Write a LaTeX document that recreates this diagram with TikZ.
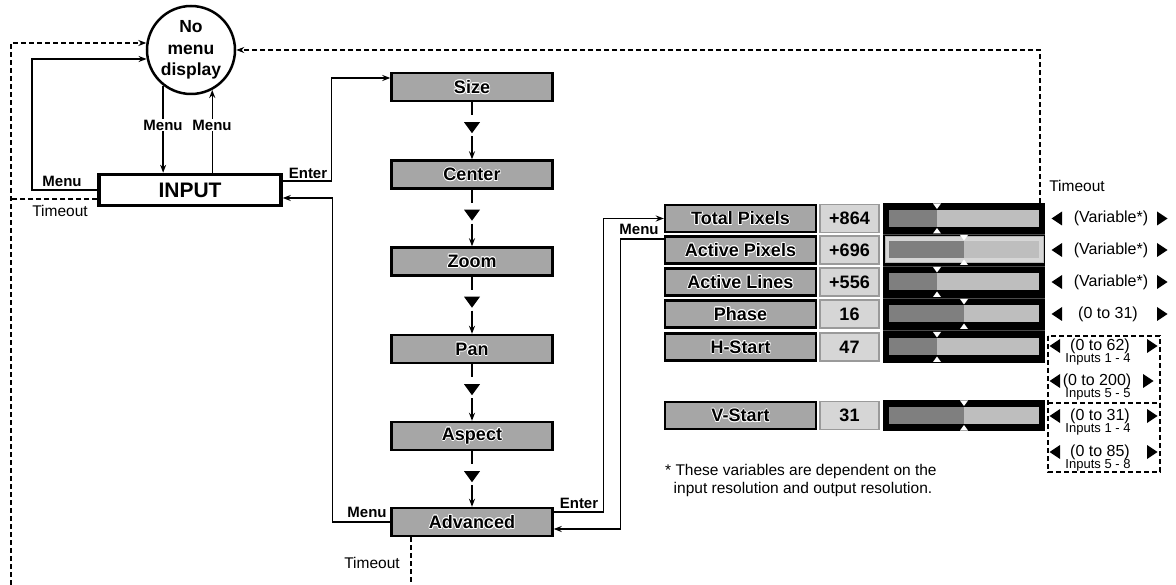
\documentclass[tikz,border=0pt]{standalone}
\usepackage{fontspec}
\setmainfont{Liberation Sans}
\usetikzlibrary{arrows.meta,calc}
\definecolor{boxgray}{HTML}{A6A6A6}
\definecolor{valgray}{HTML}{D6D6D6}
\definecolor{valedge}{HTML}{9A9A9A}
\definecolor{bardark}{HTML}{7F7F7F}
\definecolor{barlight}{HTML}{BEBEBE}
\definecolor{sepgray}{HTML}{4A4A4A}
\definecolor{lightedge}{HTML}{B5B5B5}
\newcommand\halotxt[1]{%
\makebox[0pt][l]{\color{white}\kern.9pt#1}%
\makebox[0pt][l]{\color{white}\kern-.9pt#1}%
\makebox[0pt][l]{\color{white}\raisebox{.9pt}{#1}}%
\makebox[0pt][l]{\color{white}\raisebox{-.9pt}{#1}}%
\makebox[0pt][l]{\color{white}\kern.65pt\raisebox{.65pt}{#1}}%
\makebox[0pt][l]{\color{white}\kern-.65pt\raisebox{.65pt}{#1}}%
\makebox[0pt][l]{\color{white}\kern.65pt\raisebox{-.65pt}{#1}}%
\makebox[0pt][l]{\color{white}\kern-.65pt\raisebox{-.65pt}{#1}}%
#1}
\begin{document}
\begin{tikzpicture}[x=1pt,y=-1pt,
  stepbox/.style={draw, line width=2.4pt, fill=boxgray, minimum width=161pt, minimum height=28pt, inner sep=0pt, font=\bfseries\fontsize{18}{21}\selectfont},
  namebox/.style={draw, line width=2.4pt, fill=boxgray, minimum width=151pt, minimum height=27pt, inner sep=0pt, font=\bfseries\fontsize{18}{21}\selectfont},
  valbox/.style={draw=valedge, line width=1.6pt, fill=valgray, minimum width=59pt, minimum height=28pt, inner sep=0pt, font=\bfseries\fontsize{18}{21}\selectfont},
  lbl/.style={font=\bfseries\fontsize{15}{18}\selectfont, inner sep=1pt},
  tlbl/.style={font=\fontsize{15.5}{18}\selectfont, inner sep=1pt},
  rlbl/.style={font=\fontsize{16}{18}\selectfont, inner sep=0pt},
  slbl/.style={font=\fontsize{13}{14}\selectfont, inner sep=0pt},
  conn/.style={line width=1.3pt, -{Stealth[length=8pt,width=6pt]}},
  plain/.style={line width=1.3pt},
  dsh/.style={line width=1.2pt, dash pattern=on 5pt off 3pt},
  ltri/.pic={\fill (5,-7) -- (5,7) -- (-5.5,0) -- cycle;},
  rtri/.pic={\fill (-5,-7) -- (-5,7) -- (5.5,0) -- cycle;}
]
\useasboundingbox (0,0) rectangle (1176,585);

% --- circle and INPUT
\node[draw, circle, line width=2.5pt, minimum size=88pt, inner sep=0pt, align=center,
      font=\bfseries\fontsize{17.5}{21.5}\selectfont] (nomenu) at (191,50) {No\\menu\\display};
\node[draw, line width=3.5pt, minimum width=182pt, minimum height=31pt, inner sep=0pt,
      font=\bfseries\fontsize{21}{24}\selectfont] (input) at (190,190) {INPUT};

% Menu arrows between circle and INPUT
\draw[conn] (nomenu.-128) -- (nomenu.-128 |- input.north);
\draw[conn] (input.north -| nomenu.-62) -- (nomenu.-62);
\node[lbl, fill=white] (m1) at (163,125) {Menu};
\node[lbl, fill=white] (m2) at (212,125) {Menu};

% left Menu loop
\coordinate (lm) at (32,59);
\draw[conn] (input.west) -| (lm) -- (lm -| nomenu.191.5);
\node[lbl] (m3) at (62,181) {Menu};

% left timeout loop
\coordinate (tl) at (11,43);
\coordinate (tb) at (11,585);
\draw[dsh] ([yshift=-9pt]input.west) -- ([yshift=-9pt]input.west -| tl);
\draw[dsh, -{Stealth[length=8pt,width=6pt]}] (tb) -- (tl) -- (tl -| nomenu.171);
\node[tlbl] (to1) at (60,211) {Timeout};

% right timeout line
\coordinate (tbar) at (1040,203);
\draw[dsh, -{Stealth[length=8pt,width=6pt]}] (tbar) |- (nomenu.east);
\node[tlbl] (to2) at (1077,186) {Timeout};

% --- chain of menu boxes
\foreach \nm/\txt/\yy in {size/Size/87, center/Center/174.5, zoom/Zoom/261.5, pan/Pan/349, aspect/Aspect/436, adv/Advanced/522}
  \node[stepbox] (\nm) at (472,\yy) {\halotxt{\txt}};

\foreach \a/\b in {size/center, center/zoom, zoom/pan, pan/aspect, aspect/adv} {
  \draw[plain] (\a.south) -- ++(0,13);
  \fill ($(\a.south)+(-8,20)$) -- ++(16,0) -- ++(-8,11) -- cycle;
  \draw[conn] ($(\a.south)+(0,34)$) -- (\b.north);
}

% Enter from INPUT to Size
\draw[conn] ([yshift=9pt]input.east) -- ++(49,0) |- ([yshift=9pt]size.west);
\node[lbl] (e1) at (308,173) {Enter};

% Menu from Advanced to INPUT
\draw[conn] (adv.west) -- ++(-58,0) |- ([yshift=-8pt]input.east);
\node[lbl] (m4) at (367,512) {Menu};
\node[tlbl] (to3) at (372,563) {Timeout};
\coordinate (advbot) at (411,585);
\draw[dsh] (adv.south -| advbot) -- (advbot);

% --- table backgrounds
\fill[black] (883,203) rectangle (1045,363);
\foreach \yy in {234.5,266,298,330.5}
  \draw[sepgray, line width=0.7pt] (883,\yy) -- (1045,\yy);
\draw[draw=lightedge, fill=valgray, line width=1pt] (885,237) rectangle (1043,263);
\fill[black] (883,400) rectangle (1045,431);

\foreach \nm/\val/\yy/\sx [count=\i] in {Total Pixels/+864/218.5/937, Active Pixels/+696/250/964, Active Lines/+556/282/937, Phase/16/314/964, H-Start/47/347/937, V-Start/31/415.5/964} {
  \node[namebox] (r\i) at (740.5,\yy) {\halotxt{\nm}};
  \node[valbox] (v\i) at (849.5,\yy) {\val};
  \fill[bardark] (889,\yy-8.5) rectangle (\sx,\yy+8.5);
  \fill[barlight] (\sx,\yy-8.5) rectangle (1039,\yy+8.5);
  \fill[white] (\sx-4,\yy-15) -- (\sx+4,\yy-15) -- (\sx,\yy-9.5) -- cycle;
  \fill[white] (\sx-4,\yy+15) -- (\sx+4,\yy+15) -- (\sx,\yy+9.5) -- cycle;
}

% Enter from Advanced to Total Pixels, Menu back
\draw[conn] ([yshift=10pt]adv.east) -- ++(50,0) |- (r1.west);
\draw[conn] ([yshift=11pt]r2.west) -- ++(-43,0) |- ([yshift=-7pt]adv.east);
\node[lbl] (e2) at (579,503) {Enter};
\node[lbl] (m5) at (639,229) {Menu};

% --- right value ranges
\foreach \yy/\txt/\cx [count=\i] in {218.5/(Variable*)/1111, 250/(Variable*)/1111, 282/(Variable*)/1111, 314/(0 to 31)/1108} {
  \node[rlbl] (rg\i) at (\cx,\yy) {\txt};
  \pic at (1057,\yy) {ltri};
  \pic at (1162,\yy) {rtri};
}

% dashed range boxes
\draw[dsh] (1048,336) rectangle (1160,472);
\draw[dsh] (1048,403) -- (1160,403);
\foreach \yy/\txt/\cx/\rx/\yb/\sub [count=\i] in {346/(0 to 62)/1100/1152/359/Inputs 1 - 4, 381/(0 to 200)/1097/1148/394/Inputs 5 - 5, 416/(0 to 31)/1100/1152/429/Inputs 1 - 4, 452/(0 to 85)/1100/1152/465/Inputs 5 - 8} {
  \node[rlbl] (hv\i) at (\cx,\yy) {\txt};
  \node[slbl] (hs\i) at (1098,\yb) {\sub};
  \pic at (1055,\yy) {ltri};
  \pic at (\rx,\yy) {rtri};
}

% footnote
\node[tlbl, anchor=north west, align=left, font=\fontsize{15.5}{18}\selectfont] (fn) at (664,463)
  {* These variables are dependent on the\\\hspace*{0.55em}input resolution and output resolution.};
\end{tikzpicture}
\end{document}
